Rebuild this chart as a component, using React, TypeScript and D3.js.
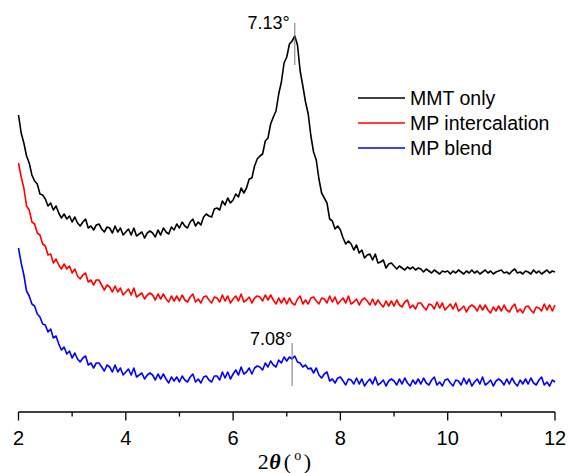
import React from 'react';
import * as d3 from 'd3';

// 2θ grid: 2.00 .. 12.00, step 0.05
const twoTheta = d3.range(0, 201).map(i => +(2 + i * 0.05).toFixed(2));

const mmtOnly = [
  297, 279, 269, 256, 249, 237, 231, 228, 218, 217,
  213, 206, 209, 202, 206, 199, 194, 198, 193, 196,
  190, 195, 189, 186, 190, 193, 184, 186, 182, 187,
  188, 183, 180, 185, 184, 179, 186, 180, 184, 177,
  180, 183, 177, 184, 176, 178, 180, 174, 179, 181,
  179, 175, 182, 177, 184, 180, 178, 185, 182, 188,
  184, 190, 186, 184, 190, 193, 186, 190, 187, 195,
  198, 196, 195, 203, 204, 202, 211, 207, 214, 209,
  212, 218, 215, 224, 219, 224, 233, 234, 246, 253,
  256, 258, 271, 274, 288, 295, 301, 318, 330, 349,
  355, 368, 371, 376, 367, 341, 326, 310, 298, 276,
  260, 252, 233, 219, 214, 209, 193, 191, 183, 186,
  182, 174, 168, 171, 168, 162, 167, 159, 162, 154,
  157, 158, 152, 158, 149, 150, 152, 144, 148, 149,
  146, 143, 146, 144, 142, 145, 143, 145, 142, 144,
  143, 140, 143, 141, 139, 142, 140, 138, 141, 140,
  141, 138, 141, 139, 142, 140, 138, 141, 139, 142,
  139, 141, 138, 140, 142, 139, 141, 138, 140, 141,
  142, 139, 140, 138, 141, 143, 139, 140, 138, 141,
  140, 138, 142, 139, 141, 138, 140, 142, 139, 141,
  140,
];

const mpIntercalation = [
  249, 235, 224, 206, 202, 190, 188, 179, 177, 168,
  166, 157, 158, 149, 153, 147, 143, 148, 143, 146,
  139, 143, 136, 133, 137, 139, 130, 132, 127, 132,
  132, 127, 122, 127, 125, 120, 126, 120, 124, 117,
  120, 123, 117, 124, 115, 117, 119, 113, 117, 119,
  117, 112, 118, 113, 118, 113, 110, 116, 111, 116,
  111, 117, 112, 110, 115, 118, 110, 113, 109, 115,
  116, 112, 109, 115, 114, 110, 117, 111, 116, 109,
  113, 116, 111, 118, 110, 112, 115, 109, 114, 116,
  115, 111, 117, 112, 117, 112, 108, 114, 109, 114,
  108, 114, 109, 107, 113, 116, 108, 112, 108, 114,
  115, 111, 108, 114, 113, 109, 116, 110, 115, 108,
  111, 114, 109, 116, 108, 110, 113, 107, 112, 114,
  111, 107, 113, 107, 112, 108, 105, 111, 106, 111,
  106, 112, 107, 105, 110, 112, 104, 107, 103, 109,
  109, 105, 102, 108, 107, 103, 110, 104, 109, 102,
  105, 108, 103, 109, 101, 103, 106, 100, 105, 107,
  105, 101, 107, 102, 107, 102, 99, 105, 101, 106,
  101, 107, 102, 100, 105, 108, 100, 103, 99, 105,
  106, 102, 99, 105, 104, 101, 108, 102, 107, 101,
  107,
];

const mpBlend = [
  164, 149, 137, 121, 116, 108, 106, 98, 95, 88,
  87, 80, 83, 74, 76, 68, 62, 65, 58, 61,
  54, 59, 53, 50, 54, 56, 47, 49, 44, 49,
  49, 45, 41, 47, 45, 40, 47, 40, 44, 37,
  40, 43, 37, 44, 35, 37, 39, 33, 37, 39,
  37, 32, 38, 33, 38, 33, 29, 35, 31, 35,
  30, 36, 32, 30, 35, 38, 30, 33, 29, 35,
  36, 32, 30, 36, 36, 32, 40, 34, 40, 33,
  38, 42, 37, 45, 38, 40, 44, 38, 44, 46,
  45, 42, 49, 45, 51, 47, 45, 52, 49, 55,
  51, 55, 53, 56, 50, 49, 45, 47, 43, 44,
  39, 44, 37, 34, 38, 40, 31, 33, 29, 34,
  35, 31, 27, 33, 32, 28, 34, 28, 33, 26,
  30, 33, 28, 35, 27, 29, 32, 26, 31, 33,
  31, 27, 33, 28, 34, 29, 26, 32, 28, 33,
  28, 34, 29, 27, 32, 35, 27, 30, 26, 32,
  33, 29, 26, 32, 31, 27, 34, 28, 33, 26,
  30, 33, 28, 35, 27, 29, 32, 26, 31, 33,
  31, 27, 33, 28, 34, 29, 26, 32, 28, 33,
  28, 34, 29, 27, 32, 35, 27, 30, 26, 32,
  30,
];

const seriesNames = ['MMT only', 'MP intercalation', 'MP blend'];
const seriesColors = ['#000000', '#ff0000', '#0000ff'];
const seriesValues = [mmtOnly, mpIntercalation, mpBlend];

const xTicks = [2, 4, 6, 8, 10, 12];
const xMinorTicks = [3, 5, 7, 9, 11];

// peak markers: position, label, marker line span (intensity)
const peakPos = [7.15, 7.1];
const peakLabels = ['7.13°', '7.08°'];
const peakSpan = [[347, 389], [26, 69]];

const W = 568;
const H = 473;

export default function App() {
  const x = d3.scaleLinear().domain([2, 12]).range([18.5, 555]);
  const y = d3.scaleLinear().domain([0, 400]).range([412, 12]);
  const axisY = y(0);

  const line = d3.line<[number, number]>()
    .x(d => x(d[0]))
    .y(d => y(d[1]));

  const font = '"Liberation Sans", Arial, sans-serif';
  const serif = '"Liberation Serif", "Times New Roman", serif';
  const cx = x(7);

  return (
    <svg width={W} height={H} style={{position: 'absolute', left: 0, top: 0, background: '#fff'}}>
      {seriesValues.map((vals, k) => (
        <path key={k}
          d={line(vals.map((v, i) => [twoTheta[i], v] as [number, number])) || ''}
          fill="none" stroke={seriesColors[k]} strokeWidth={1.6} strokeLinejoin="round" />
      ))}

      {/* peak markers */}
      {peakPos.map((p, k) => (
        <g key={k}>
          <line x1={x(p)} x2={x(p)} y1={y(peakSpan[k][0])} y2={y(peakSpan[k][1])}
            stroke="#777" strokeWidth={1} />
          <text x={x(p) - (k === 0 ? 5 : 0)} y={y(peakSpan[k][1]) + (k === 0 ? 6 : 2)}
            textAnchor="end" fontFamily={font} fontSize={18} fill="#000">{peakLabels[k]}</text>
        </g>
      ))}

      {/* legend */}
      {seriesNames.map((n, k) => (
        <g key={n} transform={`translate(358, ${98 + k * 25})`}>
          <line x1={0} x2={47} y1={0} y2={0} stroke={seriesColors[k]} strokeWidth={1.5} />
          <text x={52} y={7} fontFamily={font} fontSize={19.5} fill="#000">{n}</text>
        </g>
      ))}

      {/* x axis */}
      <line x1={x(2)} x2={x(12)} y1={axisY} y2={axisY} stroke="#000" strokeWidth={1.5} />
      {xTicks.map(t => (
        <g key={t}>
          <line x1={x(t)} x2={x(t)} y1={axisY} y2={axisY + 8.5} stroke="#000" strokeWidth={1.3} />
          <text x={x(t)} y={axisY + 32.5} textAnchor="middle" fontFamily={font} fontSize={20} fill="#000">{t}</text>
        </g>
      ))}
      {xMinorTicks.map(t => (
        <line key={t} x1={x(t)} x2={x(t)} y1={axisY} y2={axisY + 4.5} stroke="#000" strokeWidth={1.3} />
      ))}
      <text y={469} fontFamily={serif} fontSize={22} fill="#000">
        <tspan x={cx - 29}>2</tspan>
        <tspan x={cx - 17.5} fontWeight="bold" fontStyle="italic">θ</tspan>
        <tspan x={cx - 3}>(</tspan>
        <tspan x={cx + 7.5} fontSize={14} dy={-9}>o</tspan>
        <tspan x={cx + 17} dy={9}>)</tspan>
      </text>
    </svg>
  );
}
